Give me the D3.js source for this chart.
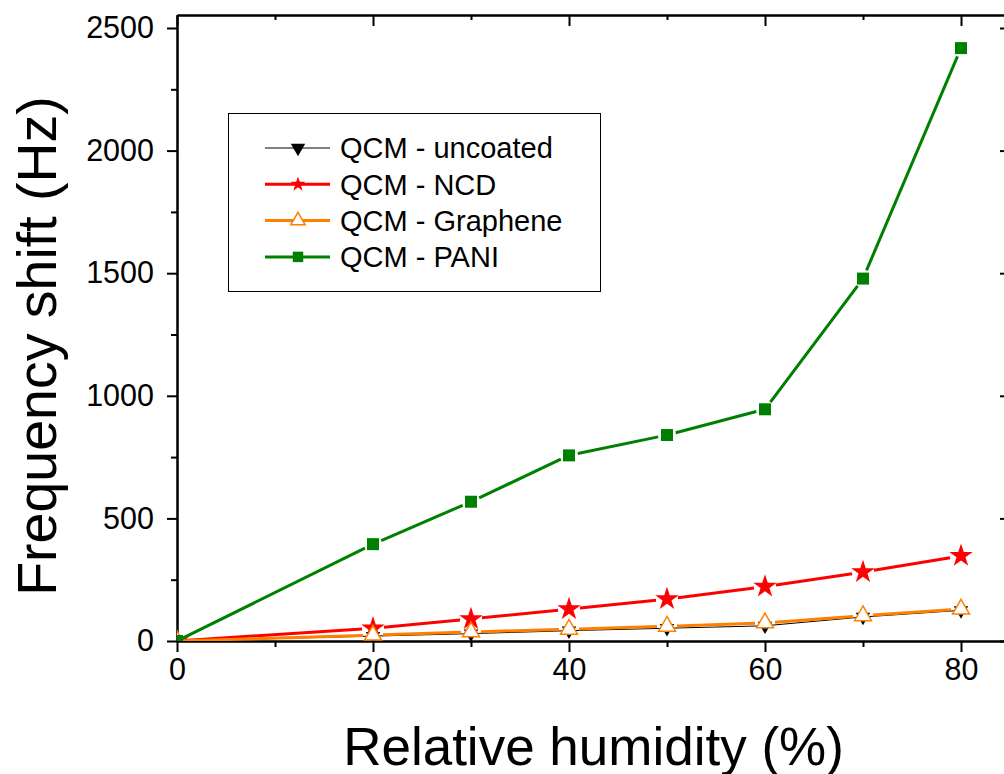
<!DOCTYPE html>
<html>
<head>
<meta charset="utf-8">
<style>
body { margin: 0; background: #fff; }
svg { display: block; font-family: "Liberation Sans", Arial, sans-serif; }
.axis path, .axis line { stroke: #000; stroke-width: 2; }
.axis text { font-family: "Liberation Sans", Arial, sans-serif; font-size: 30.5px; fill: #000; }
</style>
</head>
<body>

<svg id="chart" width="1004" height="774"></svg>

<script src="https://d3js.org/d3.v7.min.js"></script>
<script>

var humidity = [0, 20, 30, 40, 50, 60, 70, 80];
var uncoated = [0, 20, 30, 42, 52, 62, 98, 125];
var ncd      = [0, 52, 90, 130, 171, 222, 281, 347];
var graphene = [0, 24, 37, 48, 60, 74, 103, 130];
var pani     = [0, 395, 568, 757, 840, 945, 1478, 2418];

var seriesNames = ["QCM - uncoated", "QCM - NCD", "QCM - Graphene", "QCM - PANI"];
var xTicks = [0, 20, 40, 60, 80];
var yTicks = [0, 500, 1000, 1500, 2000, 2500];

var series = [
    {name: seriesNames[0], values: uncoated, color: "#000", width: 1,   shape: "down",  size: 90,  lsize: 90,  fill: "#000", gap: 5},
    {name: seriesNames[1], values: ncd,      color: "#ff0000", width: 3, shape: "star",  size: 170, lsize: 70,  fill: "#ff0000", gap: 11},
    {name: seriesNames[2], values: graphene, color: "#ff8000", width: 3, shape: "tri",   size: 125, lsize: 90,  fill: "#fff", gap: 10},
    {name: seriesNames[3], values: pani,     color: "#008000", width: 3, shape: "square",size: 144, lsize: 110, fill: "#008000", gap: 9}
];

var margin = {top: 15, left: 177},
    width = 833,
    height = 626;

var svg = d3.select("#chart");
var chart = svg.append("g")
    .attr("transform", "translate(" + margin.left + "," + margin.top + ")");

var xScale = d3.scaleLinear().domain([0, 85]).range([0, width]);
var yScale = d3.scaleLinear().domain([0, 2553]).range([height, 0]);

svg.append("defs").append("clipPath").attr("id", "plotClip")
    .append("rect").attr("width", width).attr("height", height);

// minor ticks
var xMinor = d3.range(10, 85, 20);
var yMinor = d3.range(250, 2553, 500);
var fmt = d3.format("d");

// bottom axis
chart.append("g")
    .attr("class", "axis")
    .attr("transform", "translate(0," + height + ")")
    .call(d3.axisBottom(xScale).tickValues(xTicks).tickSize(11).tickSizeOuter(0).tickPadding(6).tickFormat(fmt));
chart.append("g")
    .attr("class", "axis")
    .attr("transform", "translate(0," + height + ")")
    .call(d3.axisBottom(xScale).tickValues(xMinor).tickSize(6).tickSizeOuter(0).tickFormat(""));

// left axis
chart.append("g")
    .attr("class", "axis")
    .call(d3.axisLeft(yScale).tickValues(yTicks).tickSize(10).tickSizeOuter(0).tickPadding(13).tickFormat(fmt));
chart.append("g")
    .attr("class", "axis")
    .call(d3.axisLeft(yScale).tickValues(yMinor).tickSize(6).tickSizeOuter(0).tickFormat(""));

// top axis (ticks inward)
chart.append("g")
    .attr("class", "axis")
    .call(d3.axisTop(xScale).tickValues(xTicks).tickSize(-11).tickSizeOuter(0).tickFormat(""));
chart.append("g")
    .attr("class", "axis")
    .call(d3.axisTop(xScale).tickValues(xMinor).tickSize(-5).tickSizeOuter(0).tickFormat(""));

// right axis (ticks inward)
chart.append("g")
    .attr("class", "axis")
    .attr("transform", "translate(" + width + ",0)")
    .call(d3.axisRight(yScale).tickValues(yTicks).tickSize(-10).tickSizeOuter(0).tickFormat(""));
chart.append("g")
    .attr("class", "axis")
    .attr("transform", "translate(" + width + ",0)")
    .call(d3.axisRight(yScale).tickValues(yMinor).tickSize(-5).tickSizeOuter(0).tickFormat(""));

function symbolPath(shape, size) {
    var type = shape === "star" ? d3.symbolStar
        : shape === "square" ? d3.symbolSquare
        : d3.symbolTriangle;
    return d3.symbol().type(type).size(size)();
}

var plot = chart.append("g").attr("clip-path", "url(#plotClip)");

series.forEach(function(s) {
    var pts = humidity.map(function(h, i) { return [xScale(h), yScale(s.values[i])]; });
    // line segments with a small gap around each symbol
    var segs = [];
    for (var i = 0; i < pts.length - 1; i++) {
        var a = pts[i], b = pts[i + 1];
        var dx = b[0] - a[0], dy = b[1] - a[1], len = Math.sqrt(dx * dx + dy * dy);
        var g0 = i === 0 ? 0 : s.gap, g1 = s.gap;
        if (len > g0 + g1) {
            segs.push([[a[0] + dx * g0 / len, a[1] + dy * g0 / len],
                       [b[0] - dx * g1 / len, b[1] - dy * g1 / len]]);
        }
    }
    plot.append("g").selectAll("line")
        .data(segs)
        .enter()
        .append("line")
        .attr("x1", function(d) { return d[0][0]; })
        .attr("y1", function(d) { return d[0][1]; })
        .attr("x2", function(d) { return d[1][0]; })
        .attr("y2", function(d) { return d[1][1]; })
        .attr("stroke", s.color)
        .attr("stroke-width", s.width);

    plot.append("g").selectAll("path")
        .data(pts)
        .enter()
        .append("path")
        .attr("d", symbolPath(s.shape, s.size))
        .attr("transform", function(d) {
            return "translate(" + d[0] + "," + d[1] + ")" + (s.shape === "down" ? " rotate(180)" : "");
        })
        .attr("fill", s.fill)
        .attr("stroke", s.shape === "tri" ? s.color : "none")
        .attr("stroke-width", 1.5);
});

// legend
var legend = svg.append("g").attr("transform", "translate(228,113)");
legend.append("rect")
    .attr("x", 0.5).attr("y", 0.5)
    .attr("width", 372).attr("height", 178)
    .attr("fill", "#fff")
    .attr("stroke", "#000")
    .attr("stroke-width", 1);

var rows = legend.selectAll("g.row")
    .data(series)
    .enter()
    .append("g")
    .attr("class", "row")
    .attr("transform", function(d, i) { return "translate(0," + (35 + i * 36.3) + ")"; });

rows.append("line")
    .attr("x1", 37).attr("x2", 102)
    .attr("stroke", function(d) { return d.color; })
    .attr("stroke-width", function(d) { return d.width; });

rows.append("path")
    .attr("d", function(d) { return symbolPath(d.shape, d.lsize); })
    .attr("transform", function(d) { return "translate(70,0)" + (d.shape === "down" ? " rotate(180)" : ""); })
    .attr("fill", function(d) { return d.fill; })
    .attr("stroke", function(d) { return d.shape === "tri" ? d.color : "none"; })
    .attr("stroke-width", 1.5);

rows.append("text")
    .attr("x", 112)
    .attr("dy", "0.36em")
    .attr("font-size", 29)
    .text(function(d) { return d.name; });

// axis titles
svg.append("text")
    .attr("x", margin.left + width / 2)
    .attr("y", 765)
    .attr("text-anchor", "middle")
    .attr("font-size", 53)
    .text("Relative humidity (%)");

svg.append("text")
    .attr("transform", "translate(56," + (margin.top + 331) + ") rotate(-90)")
    .attr("text-anchor", "middle")
    .attr("font-size", 55.5)
    .text("Frequency shift (Hz)");

</script>
</body>
</html>
